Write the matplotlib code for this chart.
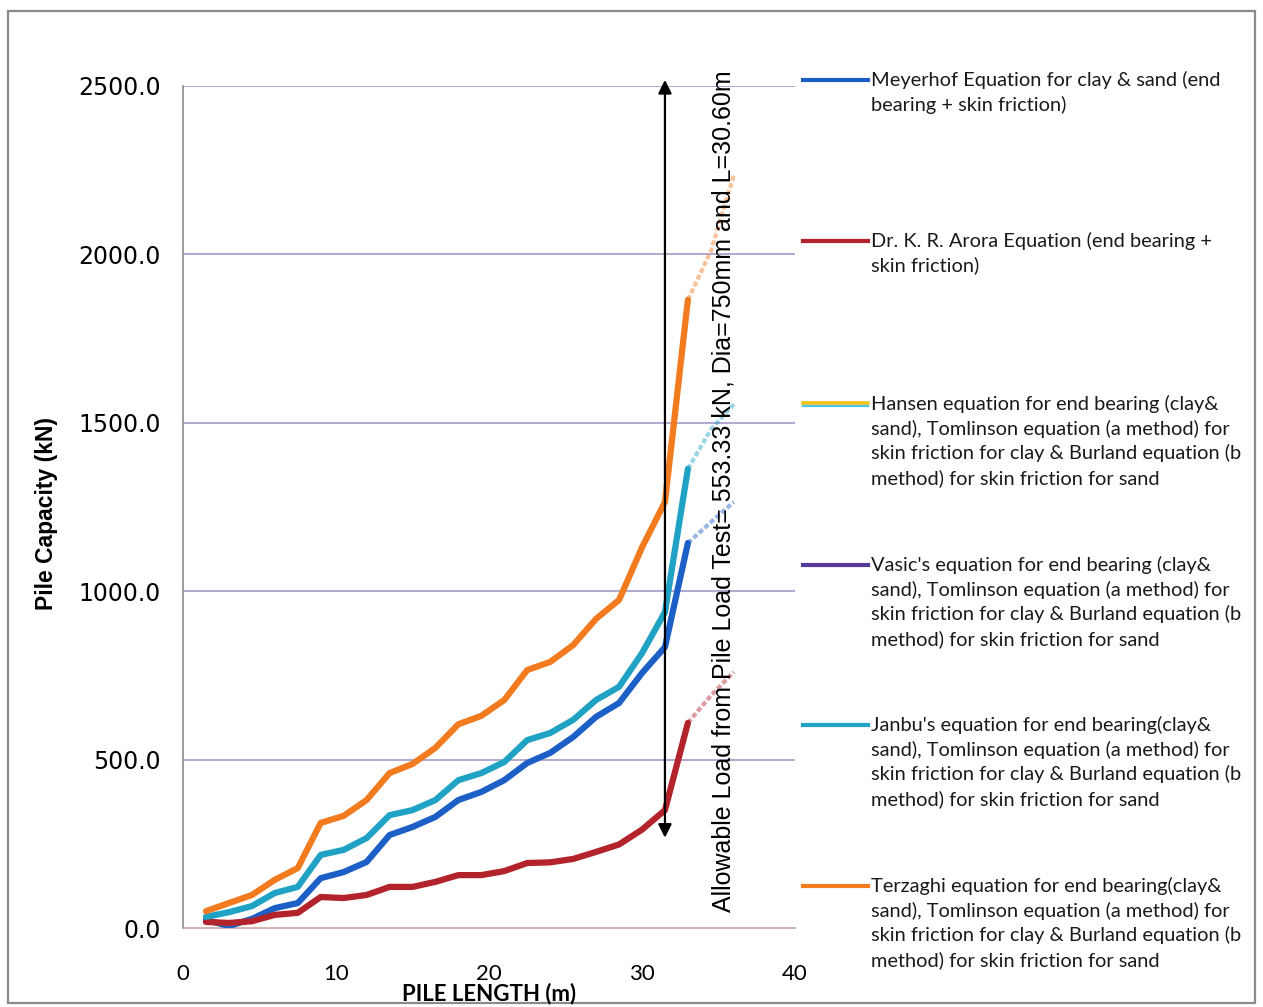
import matplotlib
matplotlib.use("Agg")
import matplotlib.pyplot as plt
from matplotlib.lines import Line2D
from matplotlib.patches import Rectangle

# Pile length (m) at which capacities were evaluated
pile_length = [1.5, 3.0, 4.5, 6.0, 7.5, 9.0, 10.5, 12.0, 13.5, 15.0, 16.5, 18.0,
               19.5, 21.0, 22.5, 24.0, 25.5, 27.0, 28.5, 30.0, 31.5, 33.0, 34.5, 36.0]

# Pile capacity (kN) by method
meyerhof = [24, 6, 27, 59, 74, 148, 166, 196, 276, 300, 330, 380,
            404, 439, 490, 520, 567, 627, 668, 757, 834, 1143, 1205, 1265]
arora = [18, 15, 20, 39, 45, 92, 89, 98, 122, 122, 137, 157,
         157, 169, 193, 195, 205, 226, 248, 292, 350, 609, 690, 760]
janbu = [33, 47, 65, 104, 122, 217, 232, 267, 335, 350, 380, 439,
         460, 493, 558, 579, 618, 677, 716, 816, 938, 1363, 1480, 1555]
terzaghi = [50, 74, 98, 143, 178, 312, 333, 380, 460, 487, 535, 605,
            630, 677, 766, 790, 840, 918, 974, 1130, 1265, 1865, 2010, 2235]

common_tail = ("sand), Tomlinson equation (a method) for\n"
               "skin friction for clay & Burland equation (b\n"
               "method) for skin friction for sand")
labels = [
    "Meyerhof Equation for clay & sand (end\nbearing + skin friction)",
    "Dr. K. R. Arora Equation (end bearing +\nskin friction)",
    "Hansen equation for end bearing (clay&\n" + common_tail,
    "Vasic's equation for end bearing (clay&\n" + common_tail,
    "Janbu's equation for end bearing(clay&\n" + common_tail,
    "Terzaghi equation for end bearing(clay&\n" + common_tail,
]
colors = ["#1c5fc6", "#b3232b", "#f0c419", "#553a9c", "#1fa2c4", "#f27b1f"]

yticks = [0, 500, 1000, 1500, 2000, 2500]
xticks = [0, 10, 20, 30, 40]

W, H = 1263, 1007
fig = plt.figure(figsize=(W / 100, H / 100), dpi=100)
fig.patch.set_facecolor("white")

def px(x0, y0, w, h):
    return [x0 / W, 1 - (y0 + h) / H, w / W, h / H]

ax = fig.add_axes(px(183, 86, 612, 842))
ax.set_xlim(0, 40)
ax.set_ylim(0, 2500)

# Horizontal grid
for yv in yticks[1:]:
    ax.axhline(yv, color="#a9a3cf", lw=1.3, zorder=1)

series = [(meyerhof, colors[0]), (arora, colors[1]), (janbu, colors[4]), (terzaghi, colors[5])]
n_solid = 22  # points up to 33 m drawn solid, the remainder as a lighter extension
for vals, c in series:
    ax.plot(pile_length[:n_solid], vals[:n_solid], color=c, lw=4.5,
            solid_joinstyle="round", solid_capstyle="round", zorder=3)
    ax.plot(pile_length[n_solid - 1:], vals[n_solid - 1:], color=c, lw=3.0,
            alpha=0.45, linestyle=(0, (1.2, 0.6)), zorder=2)

for s in ["top", "right"]:
    ax.spines[s].set_visible(False)
ax.spines["left"].set_color("#8c8c8c")
ax.spines["bottom"].set_color("#c8a8a0")
ax.spines["left"].set_linewidth(1.2)
ax.spines["bottom"].set_linewidth(1.2)

ax.set_yticks(yticks)
ax.set_yticklabels([f"{v:.1f}" for v in yticks], fontsize=17, family="DejaVu Sans")
ax.set_xticks(xticks)
ax.set_xticklabels([str(v) for v in xticks], fontsize=16, family="Lato")
ax.tick_params(axis="y", length=0, pad=16)
ax.tick_params(axis="x", length=0, pad=26)

fig.text(489 / W, 1 - 994 / H, "PILE LENGTH (m)", ha="center", va="center",
         fontsize=16, fontweight="bold", family="Lato")
fig.text(47 / W, 1 - 513 / H, "Pile Capacity (kN)", ha="center", va="center",
         rotation=90, fontsize=16.5, fontweight="bold", family="Liberation Sans")

# Double-headed arrow marking the pile load test
ax.annotate("", xy=(31.5, 2518), xytext=(31.5, 268), annotation_clip=False,
            arrowprops=dict(arrowstyle="<|-|>", color="black", lw=1.6,
                            mutation_scale=20, shrinkA=0, shrinkB=0), zorder=5)
fig.text(724 / W, 1 - 912 / H,
         "Allowable Load from Pile Load Test= 553.33 kN, Dia=750mm and L=30.60m",
         rotation=90, ha="center", va="bottom", fontsize=18,
         family="Liberation Sans", color="black")

# Legend drawn beside the plot
legend_y = [80, 241, 404, 565, 725, 886]
for lab, c, yy in zip(labels, colors, legend_y):
    yf = 1 - yy / H
    if c == "#f0c419":
        fig.add_artist(Line2D([803 / W, 868 / W], [yf + 1.5 / H] * 2, color=c, lw=2.6))
        fig.add_artist(Line2D([803 / W, 868 / W], [yf - 1.5 / H] * 2, color="#4fc3e8", lw=1.6))
    else:
        fig.add_artist(Line2D([803 / W, 868 / W], [yf, yf], color=c, lw=3.0))
    fig.text(871 / W, yf + 9 / H, lab, ha="left", va="top", fontsize=14.4,
             family="Lato", linespacing=1.44, color="#1a1a1a")

# Outer chart border
fig.add_artist(Rectangle((8 / W, 1 - 1003 / H), 1247 / W, 992 / H,
                         transform=fig.transFigure, fill=False,
                         edgecolor="#8a8a8a", lw=1.6))

fig.savefig("out.png", dpi=100)
